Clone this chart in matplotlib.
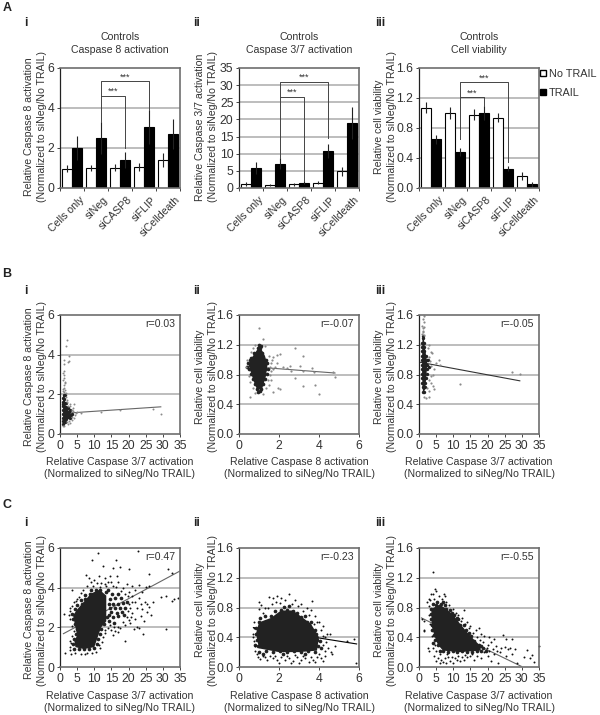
import numpy as np
import matplotlib
matplotlib.use("Agg")
import matplotlib.pyplot as plt
from matplotlib.patches import Patch

plt.rcParams['font.family'] = ['Liberation Sans', 'DejaVu Sans']

TEXT = '#333333'
FS = 7.6
W, H = 600, 715

# --- bar data (panel A) ---
groups = ['Cells only', 'siNeg', 'siCASP8', 'siFLIP', 'siCelldeath']

a1_none = [0.97, 1.0, 1.02, 1.05, 1.4]
a1_none_err = [0.18, 0.13, 0.18, 0.2, 0.36]
a1_trail = [2.0, 2.5, 1.38, 3.03, 2.7]
a1_trail_err = [0.6, 0.8, 0.4, 0.85, 0.73]

a2_none = [1.1, 1.0, 1.1, 1.5, 4.9]
a2_none_err = [0.6, 0.3, 0.4, 0.4, 1.3]
a2_trail = [5.9, 7.1, 1.6, 10.7, 19.0]
a2_trail_err = [1.7, 1.7, 0.3, 2.0, 4.6]

a3_none = [1.07, 1.0, 0.98, 0.94, 0.16]
a3_none_err = [0.07, 0.08, 0.075, 0.06, 0.055]
a3_trail = [0.65, 0.48, 1.0, 0.26, 0.05]
a3_trail_err = [0.06, 0.05, 0.09, 0.035, 0.035]

# bracket heights: lower, upper, left leg end, lower right leg end, upper right leg end
a1_brackets = [4.59, 5.33, 3.3, 1.98, 3.9]
a2_brackets = [26.6, 30.9, 8.8, 2.0, 14.5]
a3_brackets = [1.21, 1.41, 0.65, 1.09, 0.35]

# --- fit lines, [x0, x1], [y0, y1] ---
b1_fit = ([1.0, 29.4], [1.04, 1.37])
b2_fit = ([0.4, 4.8], [0.91, 0.82])
b3_fit = ([0.3, 29.4], [0.965, 0.715])
c1_fit = ([1.0, 35.0], [1.68, 4.84])
c2_fit = ([0.72, 5.88], [0.53, 0.31])
c3_fit = ([0.7, 29.8], [0.66, 0.01])

# --- the solid middle of each cloud, too dense to read single points ---
b1_solid = [(0.9, 0.5), (1.4, 0.6), (2.4, 0.8), (3.2, 0.92), (2.6, 1.15), (1.8, 1.35), (1.4, 1.7),
            (1.2, 2.0), (0.9, 1.9), (0.9, 1.0)]
b2_solid = [(0.9, 0.6), (1.15, 0.6), (1.35, 0.78), (1.42, 0.92), (1.3, 1.05), (1.1, 1.15), (0.9, 1.13),
            (0.65, 1.03), (0.48, 0.93), (0.6, 0.82), (0.75, 0.7)]
b3_solid = [(1.2, 0.55), (1.8, 0.6), (2.2, 0.8), (2.4, 0.95), (2.1, 1.05), (1.6, 1.2), (1.4, 1.3),
            (1.0, 1.28), (0.9, 1.0), (0.9, 0.8), (1.0, 0.65)]
c1_solid = [(4.5, 1.0), (7.0, 0.9), (10.0, 1.0), (11.0, 1.5), (12.0, 2.0), (13.5, 2.3), (13.5, 3.6),
            (11.5, 3.9), (9.0, 3.7), (7.0, 3.3), (5.0, 2.9), (3.8, 2.6), (4.5, 2.0), (5.0, 1.6), (4.2, 1.3)]
c2_solid = [(1.0, 0.25), (2.0, 0.2), (3.0, 0.2), (3.9, 0.22), (4.0, 0.4), (3.6, 0.58), (3.2, 0.66),
            (2.7, 0.76), (2.1, 0.76), (1.6, 0.66), (1.0, 0.6), (0.85, 0.45)]
c3_solid = [(3.6, 0.78), (6.0, 0.84), (8.0, 0.78), (10.0, 0.7), (12.0, 0.58), (14.0, 0.47), (16.0, 0.37),
            (18.0, 0.28), (18.0, 0.22), (12.0, 0.2), (7.0, 0.22), (5.5, 0.3), (4.5, 0.42), (3.7, 0.55)]

# --- scatter data: dense part and the single dots around it ---
b1_core = [(1.0, 0.5), (1.3, 0.65), (1.0, 0.8), (1.8, 0.78), (1.0, 1.0), (1.8, 1.0), (2.6, 0.95),
           (3.2, 0.95), (1.0, 1.2), (1.8, 1.2), (2.6, 1.13), (1.0, 1.4), (1.7, 1.35), (1.0, 1.6),
           (1.4, 1.55), (1.0, 1.8), (1.3, 1.75), (1.1, 1.95), (1.5, 0.6), (2.3, 0.85), (3.6, 1.0),
           (3.0, 0.8), (2.8, 1.2), (2.2, 1.3), (1.7, 1.55), (0.8, 0.65), (0.8, 1.5), (1.5, 1.95)]
b1_dots = [(2.0, 4.75), (1.7, 4.45), (2.5, 3.95), (1.3, 3.75), (2.7, 3.7), (2.3, 3.65), (1.1, 3.55),
           (1.2, 3.2), (1.0, 3.1), (1.3, 3.0), (1.2, 2.8), (1.0, 2.7), (1.4, 2.6), (1.1, 2.45),
           (1.2, 2.3), (1.5, 2.2), (0.9, 2.15), (1.8, 2.05), (4.2, 1.5), (3.0, 1.4), (3.7, 1.3),
           (5.0, 1.1), (6.0, 1.08), (4.0, 0.8), (3.5, 0.7), (4.4, 0.95), (3.0, 0.55), (2.4, 0.5),
           (1.2, 0.38), (0.8, 0.42), (12.0, 1.12), (17.5, 1.2), (27.2, 1.25), (29.5, 1.03),
           (3.4, 1.2), (2.8, 1.5), (2.1, 1.7), (1.9, 1.6), (3.9, 1.15), (4.6, 1.05), (1.6, 2.55),
           (1.0, 2.25), (1.3, 2.1), (1.7, 1.85), (2.3, 1.4), (2.6, 0.65), (2.0, 0.6), (3.4, 0.85)]

b2_core = [(0.9, 0.6), (1.1, 0.6), (0.8, 0.67), (1.0, 0.67), (1.2, 0.67), (0.7, 0.74), (0.9, 0.74),
           (1.1, 0.74), (1.3, 0.74), (0.6, 0.81), (0.8, 0.81), (1.0, 0.81), (1.2, 0.81), (1.4, 0.81),
           (0.5, 0.88), (0.7, 0.88), (0.9, 0.88), (1.1, 0.88), (1.3, 0.88), (1.45, 0.88), (0.45, 0.95),
           (0.65, 0.95), (0.85, 0.95), (1.05, 0.95), (1.25, 0.95), (1.4, 0.95), (0.6, 1.02), (0.8, 1.02),
           (1.0, 1.02), (1.2, 1.02), (1.35, 1.0), (0.75, 1.09), (0.95, 1.09), (1.15, 1.09), (0.95, 1.15),
           (1.05, 1.15), (0.95, 0.56), (1.05, 0.58), (1.0, 1.2), (1.1, 1.18), (0.55, 1.0), (0.42, 0.9)]
b2_dots = [(1.0, 1.42), (1.2, 1.28), (0.55, 0.5), (1.7, 1.03), (2.8, 1.15), (3.2, 1.05), (3.66, 0.89),
           (3.05, 0.92), (3.2, 0.85), (3.77, 0.84), (3.2, 0.64), (3.82, 0.66), (3.98, 0.54), (4.8, 0.76),
           (4.7, 0.83), (1.97, 0.62), (2.05, 0.6), (2.8, 0.75), (2.38, 0.89), (2.55, 0.92), (1.88, 1.06),
           (2.05, 1.08), (1.72, 0.57), (1.6, 0.95), (1.7, 0.88), (1.55, 0.8), (1.65, 1.0), (1.8, 0.9),
           (1.6, 0.72), (1.5, 0.66), (1.9, 0.95), (2.2, 0.9), (0.8, 0.55), (1.2, 0.54), (0.35, 0.9),
           (0.4, 1.0), (0.5, 0.78), (1.3, 1.18), (0.8, 1.2), (2.6, 0.85), (1.55, 0.9), (1.6, 0.85),
           (1.5, 1.05), (1.45, 0.72), (1.35, 0.62), (0.7, 0.62), (0.55, 0.7), (0.6, 1.1), (0.7, 1.15)]

b3_core = [(1.2, 0.57), (1.6, 0.57), (1.1, 0.63), (1.7, 0.63), (1.0, 0.69), (1.8, 0.69), (1.0, 0.75),
           (1.9, 0.75), (0.9, 0.81), (1.6, 0.81), (2.3, 0.81), (0.9, 0.87), (1.6, 0.87), (2.4, 0.87),
           (0.9, 0.93), (1.6, 0.93), (2.4, 0.93), (0.9, 0.99), (1.6, 0.99), (2.3, 0.99), (0.9, 1.05),
           (1.6, 1.05), (2.1, 1.05), (1.0, 1.11), (1.6, 1.11), (1.0, 1.17), (1.5, 1.17), (1.0, 1.23),
           (1.4, 1.23), (1.1, 1.29), (1.3, 1.32), (2.9, 0.9), (2.7, 1.0)]
b3_dots = [(27.0, 0.83), (29.5, 0.81), (12.0, 0.67), (5.8, 0.99), (6.0, 0.93), (5.0, 0.95), (4.5, 0.6),
           (4.2, 0.65), (3.5, 0.78), (4.0, 0.8), (3.0, 0.5), (2.0, 0.49), (1.2, 1.55), (1.5, 1.5),
           (1.0, 1.45), (1.3, 1.42), (1.6, 1.44), (1.2, 1.37), (1.5, 1.33), (3.4, 1.1), (3.8, 1.09),
           (2.8, 1.2), (3.2, 0.98), (3.6, 0.92), (4.4, 0.88), (3.4, 0.68), (2.8, 0.58), (2.4, 0.62),
           (1.4, 0.5), (3.0, 0.72), (2.6, 1.15), (2.9, 1.03), (1.1, 1.38), (1.4, 1.58), (0.9, 1.35)]

c1_core = [(4.0, 0.92), (5.5, 0.9), (7.0, 0.93), (8.5, 0.9), (10.0, 0.95), (3.8, 1.15), (5.2, 1.13),
           (10.8, 1.17), (4.2, 1.4), (11.0, 1.4), (4.8, 1.65), (11.6, 1.65), (5.0, 1.9), (12.0, 1.9),
           (4.4, 2.15), (12.8, 2.15), (3.8, 2.4), (3.6, 2.65), (4.4, 2.9), (5.0, 3.15), (6.4, 3.16),
           (6.0, 3.4), (7.4, 3.41), (7.4, 3.65), (8.8, 3.66), (9.0, 3.88), (10.4, 3.9), (11.8, 3.87),
           (13.4, 3.8), (14.3, 2.3), (15.5, 2.5), (17.0, 2.55), (14.4, 2.6), (15.0, 2.75), (16.5, 2.72),
           (18.0, 2.75), (14.5, 2.95), (16.0, 2.97), (17.5, 2.95), (19.0, 3.0), (14.2, 3.2), (15.5, 3.2),
           (17.0, 3.2), (18.5, 3.25), (14.6, 3.45), (16.0, 3.48), (17.8, 3.48), (15.2, 3.68), (16.8, 3.68),
           (14.0, 3.9), (18.6, 2.6), (19.5, 3.3), (13.8, 2.5), (15.8, 2.2)]
c1_dots = [(11.0, 5.76), (9.4, 5.4), (22.8, 5.85), (16.3, 5.4), (12.6, 5.1), (31.6, 4.92), (32.6, 4.72),
           (25.9, 4.67), (20.2, 4.92), (17.5, 5.05), (15.4, 5.0), (7.6, 4.64), (3.4, 3.9), (1.2, 2.66),
           (1.6, 0.7), (3.1, 0.65), (19.0, 1.29), (24.1, 1.66), (30.9, 1.93), (32.6, 3.33), (33.2, 3.42),
           (34.5, 3.47), (29.4, 3.55), (30.8, 3.6), (27.2, 3.3), (25.5, 3.2), (24.8, 3.3), (26.0, 3.05),
           (24.0, 2.9), (25.5, 2.75), (26.5, 2.6), (23.5, 2.55), (22.0, 2.4), (24.5, 2.3), (22.5, 2.0),
           (21.5, 1.9), (23.0, 1.95), (20.5, 2.2), (21.0, 2.7), (22.5, 3.0), (21.0, 3.3), (23.0, 3.5),
           (24.0, 3.8), (22.0, 3.9), (25.0, 4.05), (26.0, 4.1), (23.0, 4.15), (21.0, 4.1), (20.0, 3.8),
           (19.5, 2.5), (18.5, 2.25), (17.0, 2.0), (16.0, 1.8), (15.5, 1.6), (17.5, 1.95), (14.5, 2.1),
           (14.0, 4.3), (13.0, 4.5), (11.5, 4.6), (10.0, 4.4), (9.0, 4.3), (8.5, 4.5), (12.0, 4.25),
           (14.5, 4.6), (15.5, 4.1), (17.0, 4.3), (18.5, 4.0), (19.5, 4.2), (16.5, 4.6), (13.5, 4.1),
           (6.0, 3.75), (5.0, 3.45), (4.0, 3.3), (2.8, 2.8), (3.0, 2.4), (2.9, 1.3), (3.0, 1.0),
           (4.5, 0.7), (6.0, 0.65), (8.0, 0.7), (10.5, 0.75), (11.5, 1.1), (12.5, 1.5), (13.0, 1.85),
           (20.5, 3.0), (21.0, 3.6), (19.8, 3.6), (20.8, 2.5), (22.0, 3.3), (23.5, 3.2), (20.0, 2.35),
           (19.0, 2.1), (16.8, 1.75), (15.8, 2.0), (14.8, 1.85), (14.0, 1.95), (13.2, 1.7), (12.2, 1.25),
           (11.8, 0.95), (9.3, 0.72), (7.2, 0.68), (3.2, 1.2), (2.9, 0.85), (3.4, 1.55), (4.0, 1.8),
           (3.4, 2.05), (2.7, 2.6), (3.0, 3.0), (3.6, 3.1), (4.6, 3.35), (5.5, 3.55), (6.8, 3.9),
           (7.8, 4.1), (9.5, 4.1), (10.8, 4.25), (11.8, 4.05), (13.2, 4.2), (15.0, 4.3), (16.2, 4.05),
           (17.8, 3.85), (19.0, 3.7), (20.2, 3.2), (19.8, 2.8)]

c2_core = [(1.0, 0.2), (1.35, 0.22), (1.7, 0.2), (2.05, 0.21), (2.4, 0.2), (2.75, 0.22), (3.1, 0.2),
           (3.45, 0.22), (3.8, 0.2), (0.95, 0.28), (3.95, 0.28), (0.9, 0.36), (3.9, 0.36), (0.85, 0.44),
           (3.85, 0.44), (0.85, 0.52), (3.55, 0.52), (3.8, 0.5), (1.0, 0.6), (1.3, 0.61), (3.4, 0.6),
           (3.6, 0.6), (1.6, 0.68), (1.9, 0.69), (3.1, 0.67), (3.3, 0.68), (2.1, 0.76), (2.4, 0.77),
           (2.7, 0.75), (2.9, 0.72), (1.3, 0.68), (1.05, 0.66), (1.8, 0.75), (2.5, 0.82), (2.25, 0.81),
           (0.8, 0.3), (4.05, 0.35), (4.1, 0.25), (1.2, 0.17), (2.2, 0.17), (3.3, 0.17)]
c2_dots = [(1.0, 0.88), (1.5, 0.94), (1.7, 0.93), (1.9, 0.95), (2.1, 0.93), (2.5, 0.98), (2.8, 0.9),
           (3.1, 0.85), (3.4, 0.8), (3.6, 0.76), (1.0, 0.78), (1.3, 0.8), (1.2, 0.72), (3.65, 0.89),
           (0.75, 0.6), (0.7, 0.45), (0.75, 0.35), (0.8, 0.22), (0.95, 0.13), (1.2, 0.15), (1.4, 0.1),
           (1.7, 0.12), (1.9, 0.09), (2.1, 0.13), (2.3, 0.09), (2.5, 0.12), (2.7, 0.08), (2.9, 0.13),
           (3.1, 0.09), (3.3, 0.12), (3.5, 0.07), (3.7, 0.1), (3.9, 0.13), (4.1, 0.12), (4.3, 0.15),
           (4.2, 0.3), (4.3, 0.4), (4.1, 0.5), (4.4, 0.45), (4.55, 0.44), (4.3, 0.22), (4.6, 0.2),
           (4.8, 0.28), (4.65, 0.17), (5.4, 0.35), (5.75, 0.37), (5.85, 0.05), (3.9, 0.6), (3.8, 0.68),
           (1.1, 0.83), (1.45, 0.8), (1.65, 0.85), (1.85, 0.87), (2.05, 0.86), (2.3, 0.9), (2.65, 0.85),
           (2.95, 0.82), (3.2, 0.75), (3.5, 0.7), (3.75, 0.58), (4.0, 0.6), (4.2, 0.55), (0.75, 0.52),
           (0.72, 0.4), (0.78, 0.28), (0.88, 0.18), (1.05, 0.11), (1.3, 0.13), (1.55, 0.15), (1.8, 0.15),
           (2.0, 0.06), (2.4, 0.15), (2.6, 0.06), (2.8, 0.16), (3.0, 0.06), (3.2, 0.15), (3.6, 0.14),
           (3.8, 0.07), (4.0, 0.17), (4.2, 0.08), (4.45, 0.25), (4.35, 0.33), (4.2, 0.42)]

c3_core = [(4.0, 0.85), (5.0, 0.84), (6.5, 0.85), (7.5, 0.83), (3.5, 0.78), (8.0, 0.78), (9.0, 0.77),
           (3.4, 0.71), (10.2, 0.7), (3.5, 0.64), (11.5, 0.64), (3.7, 0.57), (12.0, 0.57), (13.0, 0.56),
           (3.9, 0.5), (13.6, 0.5), (4.3, 0.43), (15.3, 0.42), (14.6, 0.46), (4.7, 0.36), (16.0, 0.35),
           (5.5, 0.29), (17.4, 0.3), (18.0, 0.28), (7.0, 0.22), (8.4, 0.2), (9.8, 0.21), (11.2, 0.2),
           (12.6, 0.21), (14.0, 0.2), (15.4, 0.2), (16.8, 0.21), (18.2, 0.21), (18.8, 0.25), (6.2, 0.22),
           (5.2, 0.88), (7.0, 0.88), (9.5, 0.72), (11.0, 0.66), (4.2, 0.32), (19.4, 0.22)]
c3_dots = [(4.0, 1.28), (4.7, 1.05), (5.0, 1.02), (3.4, 0.98), (4.2, 0.98), (7.2, 0.98), (7.6, 0.95),
           (2.2, 0.88), (3.0, 0.92), (8.0, 0.88), (1.0, 0.65), (1.6, 0.62), (1.4, 0.5), (1.5, 0.48),
           (2.5, 0.25), (3.0, 0.22), (13.0, 0.76), (11.5, 0.7), (12.5, 0.66), (14.0, 0.6), (15.0, 0.55),
           (16.5, 0.5), (17.5, 0.52), (18.0, 0.45), (19.0, 0.42), (20.5, 0.4), (22.0, 0.38), (24.5, 0.43),
           (25.5, 0.37), (27.0, 0.38), (35.0, 0.28), (21.0, 0.33), (20.0, 0.3), (22.5, 0.28), (24.0, 0.25),
           (25.0, 0.27), (26.0, 0.24), (26.5, 0.26), (23.5, 0.2), (22.0, 0.17), (25.5, 0.15), (27.0, 0.18),
           (28.0, 0.24), (31.5, 0.23), (30.5, 0.14), (33.0, 0.16), (32.5, 0.12), (33.5, 0.07), (28.5, 0.06),
           (19.0, 0.2), (20.0, 0.15), (18.0, 0.12), (16.0, 0.1), (21.0, 0.08), (23.0, 0.05), (4.5, 0.15),
           (5.0, 0.08), (5.5, 0.12), (6.0, 0.05), (6.5, 0.1), (7.0, 0.07), (7.5, 0.12), (8.0, 0.06),
           (8.5, 0.13), (9.0, 0.08), (9.5, 0.14), (10.0, 0.06), (10.5, 0.12), (11.0, 0.09), (11.5, 0.15),
           (12.0, 0.08), (12.5, 0.14), (13.0, 0.1), (14.0, 0.13), (15.0, 0.15), (6.0, 0.18), (5.0, 0.22),
           (4.2, 0.25), (4.8, 0.3), (3.8, 0.42), (3.2, 0.58), (2.9, 0.7), (2.8, 0.82), (3.3, 0.9),
           (4.5, 0.92), (5.8, 0.95), (6.8, 0.92), (8.8, 0.84), (10.0, 0.78), (10.8, 0.73), (12.2, 0.62),
           (13.5, 0.58), (14.5, 0.53), (15.8, 0.46), (16.8, 0.4), (17.8, 0.36), (18.8, 0.33), (19.8, 0.26),
           (20.5, 0.22), (21.5, 0.24), (22.8, 0.22), (17.0, 0.15), (15.5, 0.17), (13.5, 0.16), (8.2, 0.17)]


def add_axes_px(left, top, right, bottom):
    return plt.gcf().add_axes([left / W, 1 - bottom / H, (right - left) / W, (bottom - top) / H])


def px_text(x, y, s, **kw):
    kw.setdefault('color', TEXT)
    kw.setdefault('fontsize', FS)
    kw.setdefault('ha', 'center')
    kw.setdefault('va', 'center')
    plt.gcf().text(x / W, 1 - y / H, s, **kw)


def style_axes(ax, xlim, ylim, yticks, ylabels, grid):
    ax.set_xlim(*xlim)
    ax.set_ylim(*ylim)
    ax.set_yticks(yticks)
    ax.set_yticklabels(ylabels)
    for g in grid:
        ax.axhline(g, color='#ababab', lw=1.1, zorder=0)
    for side in ['top', 'right', 'bottom']:
        ax.spines[side].set_color('#6e6e6e')
        ax.spines[side].set_linewidth(1.2)
    ax.spines['left'].set_color('#222222')
    ax.spines['left'].set_linewidth(0.9)
    ax.tick_params(axis='both', which='major', length=2.5, width=0.7, color='#444444',
                   labelsize=8.8, labelcolor=TEXT, pad=1.5)


def bar_panel(ax, none, none_err, trail, trail_err, ymax, yticks, ylabels, grid, br):
    pos = np.arange(len(groups))
    style_axes(ax, (0, 5), (0, ymax), yticks, ylabels, grid)
    ek = dict(ecolor='#222222', elinewidth=0.8, capsize=0)
    ax.bar(pos + 0.3, none, 0.4, color='white', edgecolor='black', linewidth=0.8,
           yerr=none_err, error_kw=ek, zorder=2, label='No TRAIL')
    ax.bar(pos + 0.7, trail, 0.4, color='black', edgecolor='black', linewidth=0.8,
           yerr=trail_err, error_kw=ek, zorder=2, label='TRAIL')
    ax.set_xticks(np.arange(6))
    ax.set_xticklabels([])
    ax.set_xticks(pos + 0.78, minor=True)
    ax.set_xticklabels(groups, minor=True, rotation=45, ha='right', rotation_mode='anchor',
                       fontsize=FS, color=TEXT)
    ax.tick_params(axis='x', which='minor', length=0, pad=5)

    low, up, left_end, low_end, up_end = br
    ax.plot([1.7, 1.7, 3.7, 3.7], [left_end, up, up, up_end], color='#444444', lw=0.7, zorder=3)
    ax.plot([1.7, 2.7, 2.7], [low, low, low_end], color='#444444', lw=0.7, zorder=3)
    ax.text(2.7, up, '***', ha='center', va='bottom', fontsize=6.5, color=TEXT, linespacing=1)
    ax.text(2.2, low, '***', ha='center', va='bottom', fontsize=6.5, color=TEXT, linespacing=1)


def scatter_panel(ax, solid, core, dots, fit, r_text, xlim, xticks, ylim, yticks, ylabels, grid,
                  dot_col, dot_size, core_size, fit_col):
    style_axes(ax, xlim, ylim, yticks, ylabels, grid)
    ax.set_xticks(xticks)
    ax.set_xticklabels([str(t) for t in xticks])
    solid = np.array(solid)
    core = np.array(core)
    dots = np.array(dots)
    ax.plot(fit[0], fit[1], color=fit_col, lw=0.8, zorder=1.5)
    ax.fill(solid[:, 0], solid[:, 1], color='#222222', lw=0, zorder=2)
    ax.scatter(core[:, 0], core[:, 1], s=core_size, color='#222222', linewidths=0, zorder=2)
    ax.scatter(dots[:, 0], dots[:, 1], s=dot_size, color=dot_col, linewidths=0, zorder=2, clip_on=False)
    ax.text(0.96, 0.925, r_text, transform=ax.transAxes, ha='right', va='center',
            fontsize=FS, color=TEXT)


fig = plt.figure(figsize=(W / 100, H / 100), dpi=100)

cols = [(60, 180), (239, 359), (419, 539)]
y8 = 'Relative Caspase 8 activation\n(Normalized to siNeg/No TRAIL)'
y37 = 'Relative Caspase 3/7 activation\n(Normalized to siNeg/No TRAIL)'
yv = 'Relative cell viability\n(Normalized to siNeg/No TRAIL)'
x37 = y37
x8 = y8

t6, l6 = [0, 2, 4, 6], ['0', '2', '4', '6']
t35, l35 = [0, 5, 10, 15, 20, 25, 30, 35], ['0', '5', '10', '15', '20', '25', '30', '35']
t16, l16 = [0, 0.4, 0.8, 1.2, 1.6], ['0.0', '0.4', '0.8', '1.2', '1.6']

# panel A
ax = add_axes_px(cols[0][0], 68, cols[0][1], 188)
bar_panel(ax, a1_none, a1_none_err, a1_trail, a1_trail_err, 6, t6, l6, [2, 4], a1_brackets)
ax = add_axes_px(cols[1][0], 68, cols[1][1], 188)
bar_panel(ax, a2_none, a2_none_err, a2_trail, a2_trail_err, 35, t35, l35, t35[1:-1], a2_brackets)
ax = add_axes_px(cols[2][0], 68, cols[2][1], 188)
bar_panel(ax, a3_none, a3_none_err, a3_trail, a3_trail_err, 1.6, t16, l16, t16[1:-1], a3_brackets)
ax.legend(handles=[Patch(facecolor='white', edgecolor='black', label='No TRAIL'),
                   Patch(facecolor='black', edgecolor='black', label='TRAIL')],
          loc='upper left', bbox_to_anchor=(0.98, 1.02), frameon=False, fontsize=FS + 0.2,
          handlelength=0.55, handleheight=0.55, handletextpad=0.25, labelspacing=0.85,
          borderaxespad=0.2, borderpad=0.1, labelcolor=TEXT)

titles = ['Controls\nCaspase 8 activation', 'Controls\nCaspase 3/7 activation', 'Controls\nCell viability']
for (l, r), t in zip(cols, titles):
    px_text((l + r) / 2, 43.5, t, linespacing=1.4)

# panel B
gray = '#8a8a8a'
ax = add_axes_px(cols[0][0], 315, cols[0][1], 434)
scatter_panel(ax, b1_solid, b1_core, b1_dots, b1_fit, 'r=0.03', (0, 35), t35, (0, 6), t6, l6, [2, 4], gray, 2, 6, '#666666')
ax = add_axes_px(cols[1][0], 315, cols[1][1], 434)
scatter_panel(ax, b2_solid, b2_core, b2_dots, b2_fit, 'r=-0.07', (0, 6), [0, 2, 4, 6], (0, 1.6), t16, l16, t16[1:-1], gray, 2.5, 7, '#666666')
ax = add_axes_px(cols[2][0], 315, cols[2][1], 434)
scatter_panel(ax, b3_solid, b3_core, b3_dots, b3_fit, 'r=-0.05', (0, 35), t35, (0, 1.6), t16, l16, t16[1:-1], gray, 2.5, 6, '#333333')

# panel C
ax = add_axes_px(cols[0][0], 548, cols[0][1], 667)
scatter_panel(ax, c1_solid, c1_core, c1_dots, c1_fit, 'r=0.47', (0, 35), t35, (0, 6), t6, l6, [2, 4], '#111111', 2, 7, '#666666')
ax = add_axes_px(cols[1][0], 548, cols[1][1], 667)
scatter_panel(ax, c2_solid, c2_core, c2_dots, c2_fit, 'r=-0.23', (0, 6), [0, 2, 4, 6], (0, 1.6), t16, l16, t16[1:-1], '#111111', 2, 7, '#000000')
ax = add_axes_px(cols[2][0], 548, cols[2][1], 667)
scatter_panel(ax, c3_solid, c3_core, c3_dots, c3_fit, 'r=-0.55', (0, 35), t35, (0, 1.6), t16, l16, t16[1:-1], '#111111', 2, 7, '#666666')

# y axis labels
ylab_x = [35.5, 206.5, 385.5]
for yc, labels in [(127, [y8, y37, yv]), (377, [y8, yv, yv]), (610, [y8, yv, yv])]:
    for x, s in zip(ylab_x, labels):
        px_text(x, yc, s, rotation=90, linespacing=1.3, multialignment='center')

# x axis labels
for yc in [468, 702]:
    for (l, r), s in zip(cols, [x37, x8, x37]):
        px_text((l + r) / 2, yc, s, linespacing=1.2)

# panel letters
for y, s in [(8, 'A'), (274, 'B'), (505, 'C')]:
    px_text(7, y, s, fontweight='bold', fontsize=9, color='#222222')
for y in [23, 291, 523]:
    px_text(26, y, 'i', fontweight='bold', fontsize=8.5, color='#222222')
    px_text(197, y, 'ii', fontweight='bold', fontsize=8.5, color='#222222')
    px_text(380, y, 'iii', fontweight='bold', fontsize=8.5, color='#222222')

fig.savefig('out.png', dpi=100)
